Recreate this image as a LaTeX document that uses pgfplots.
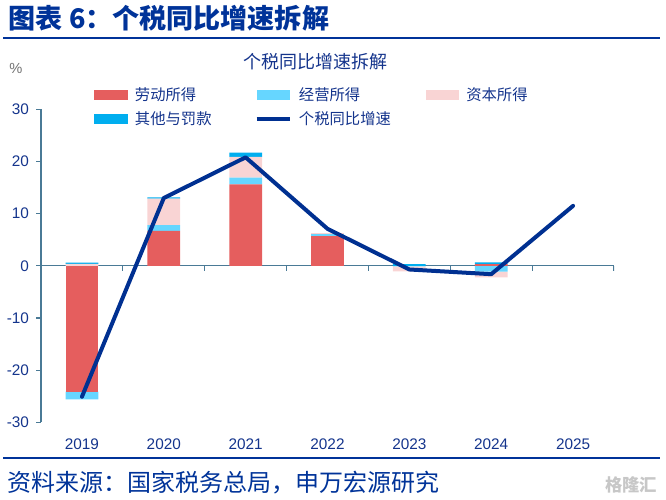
\documentclass[border=0pt]{standalone}
\usepackage{pgfplots}
\usepackage{pgfplotstable}
\pgfplotsset{compat=1.18}
\usepackage{fontspec}
\setmainfont{Noto Sans CJK SC}
\newfontfamily\arial{Liberation Sans}
\definecolor{labor}{RGB}{229,94,94}
\definecolor{biz}{RGB}{102,214,255}
\definecolor{cap}{RGB}{249,212,212}
\definecolor{oth}{RGB}{0,174,239}
\definecolor{navy}{RGB}{0,48,145}
\definecolor{txt}{RGB}{20,52,140}
\definecolor{ttl}{RGB}{0,51,153}
\definecolor{axc}{RGB}{74,122,150}

\pgfplotstableread{
x lab biz cap oth
0 0 0 0.4 0.2
1 6.7 1.1 5.1 0.2
2 15.6 1.3 4.0 0.8
3 5.7 0.4 0.15 0
4 0 0 0 0.35
5 0.35 0 0 0.3
}\posdata
\pgfplotstableread{
x lab biz cap oth
0 -24.1 -1.5 0 0
1 0 0 0 0
2 0 0 0 0
3 0 0 0 0
4 0 -0.1 -0.95 0
5 0 -1.1 -1.1 0
}\negdata
\pgfplotstableread{
x y
0 -25.1
1 13.0
2 20.8
3 7.1
4 -0.7
5 -1.6
6 11.5
}\linedata

\pgfplotsset{base/.style={at={(30.75pt,57.5pt)}, anchor=south west, scale only axis,
  width=429.75pt, height=234.75pt, xmin=-0.5, xmax=6.5, ymin=-30, ymax=30}}

\begin{document}
\begin{tikzpicture}[x=0.75pt,y=0.75pt]
\path (0,0) rectangle (666,499);
% negative parts
\begin{axis}[base, hide axis, ybar stacked, bar width=0.4]
\addplot[fill=labor, draw=none] table[x=x,y=lab]{\negdata};
\addplot[fill=biz, draw=none] table[x=x,y=biz]{\negdata};
\addplot[fill=cap, draw=none] table[x=x,y=cap]{\negdata};
\addplot[fill=oth, draw=none] table[x=x,y=oth]{\negdata};
\end{axis}
% positive parts + axes + legend
\begin{axis}[base, ybar stacked, bar width=0.4,
  axis x line*=bottom, x axis line style={draw=none},
  axis y line*=left, y axis line style={draw=axc, line width=1pt},
  xtick={0,...,6}, xticklabels={2019,2020,2021,2022,2023,2024,2025},
  xtick style={draw=none},
  ytick={-30,-20,...,30}, ytick style={draw=axc, line width=0.8pt},
  tick align=outside, major tick length=3.5pt,
  /pgf/number format/assume math mode=true,
  ticklabel style={font=\arial\fontsize{11.5}{13}\selectfont, text=txt},
  xticklabel style={yshift=-5pt},
  yticklabel style={xshift=-2pt},
  legend columns=3,
  legend image code/.code={\fill[#1] (0pt,-3.75pt) rectangle (25pt,3.75pt);},
  legend style={at={(0.0925,1.075)}, anchor=north west, draw=none, fill=none,
    inner sep=0pt, row sep=5pt,
    nodes={inner sep=1pt, anchor=west, text=txt, font=\fontsize{11.5}{13}\selectfont},
    /tikz/every odd column/.append style={column sep=4.5pt},
    /tikz/every even column/.append style={column sep=0pt}},
]
\addplot[fill=labor, draw=none] table[x=x,y=lab]{\posdata};
\addlegendentry{\makebox[89pt][l]{劳动所得}}
\addplot[fill=biz, draw=none] table[x=x,y=biz]{\posdata};
\addlegendentry{\makebox[94pt][l]{经营所得}}
\addplot[fill=cap, draw=none] table[x=x,y=cap]{\posdata};
\addlegendentry{资本所得}
\addplot[fill=oth, draw=none] table[x=x,y=oth]{\posdata};
\addlegendentry{\makebox[89pt][l]{其他与罚款}}
\addlegendimage{legend image code/.code={\draw[navy, line width=2.5pt] (0pt,0pt) -- (25pt,0pt);}}
\addlegendentry{\makebox[94pt][l]{个税同比增速}}
\draw[axc, line width=0.9pt] (axis cs:-0.5,0) -- (axis cs:6.5,0);
\pgfplotsinvokeforeach{0.5,1.5,2.5,3.5,4.5,5.5,6.5}{
  \draw[axc, line width=0.8pt] (axis cs:#1,0) -- ++(0pt,-3.5pt);
}
\end{axis}
% total growth line
\begin{axis}[base, hide axis]
\addplot[navy, line width=3pt, line join=round, line cap=round, mark=none] table[x=x,y=y]{\linedata};
\end{axis}
% titles and decorations
\node[anchor=west, text=ttl, font=\fontsize{20.3}{24}\selectfont\bfseries] at (4,481) {图表 6：个税同比增速拆解};
\draw[ttl, line width=2.2pt] (3,461) -- (660,461);
\node[text=txt, font=\fontsize{13.5}{16}\selectfont] at (315,437) {个税同比增速拆解};
\node[text=black!55, font=\arial\fontsize{11}{13}\selectfont] at (16,431) {\%};
\draw[ttl, line width=2.2pt] (3,41) -- (660,41);
\node[anchor=west, text=ttl, font=\fontsize{18}{20}\selectfont] at (3,16) {资料来源：国家税务总局，申万宏源研究};
\node[anchor=east, text=black!22, font=\fontsize{13}{15}\selectfont\bfseries] at (662,14) {格隆汇};
\end{tikzpicture}
\end{document}
